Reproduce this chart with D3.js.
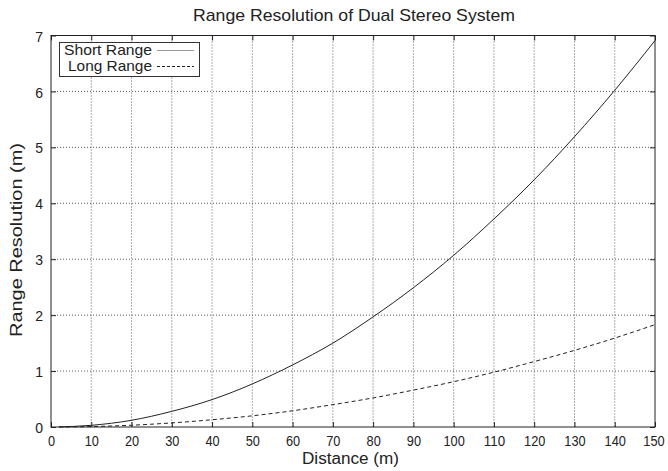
<!DOCTYPE html>
<html><head><meta charset="utf-8">
<script src="https://cdn.jsdelivr.net/npm/d3@7"></script>
<style>body{margin:0;background:#fff}svg{display:block}text{font-family:"Liberation Sans",Arial,sans-serif;fill:#222}</style>
</head><body>
<svg id="c" width="668" height="471"></svg>
<script>
const distances = [2, 10, 20, 30, 40, 50, 60, 70, 80, 90, 100, 110, 120, 130, 140, 150];
const shortRange = [0.001, 0.03, 0.12, 0.28, 0.49, 0.77, 1.11, 1.50, 1.97, 2.49, 3.07, 3.72, 4.42, 5.19, 6.02, 6.91];
const longRange  = [0.0003, 0.008, 0.032, 0.073, 0.13, 0.20, 0.29, 0.40, 0.52, 0.66, 0.81, 0.98, 1.17, 1.37, 1.59, 1.83];
const xTicks = [0,10,20,30,40,50,60,70,80,90,100,110,120,130,140,150];
const yTicks = [0,1,2,3,4,5,6,7];
const seriesNames = ["Short Range", "Long Range"];

const svg = d3.select("#c");
const L = 51, R = 655, T = 35.5, B = 427;
const x = d3.scaleLinear().domain([0,150]).range([L,R]);
const y = d3.scaleLinear().domain([0,7]).range([B,T]);

// grid
const g = svg.append("g");
g.selectAll("line.vx").data(xTicks.slice(1,-1)).join("line")
  .attr("x1",d=>x(d)).attr("x2",d=>x(d)).attr("y1",T).attr("y2",B)
  .attr("stroke","#333").attr("stroke-width",0.8).attr("stroke-dasharray","1,2");
g.selectAll("line.hy").data(yTicks.slice(1,-1)).join("line")
  .attr("y1",d=>y(d)).attr("y2",d=>y(d)).attr("x1",L).attr("x2",R)
  .attr("stroke","#333").attr("stroke-width",0.8).attr("stroke-dasharray","1,2");

// axes with inward ticks
const ax = svg.append("g").attr("transform",`translate(0,${B})`)
  .call(d3.axisBottom(x).tickValues(xTicks).tickSize(-5).tickPadding(8).tickFormat(d3.format("d")));
const axT = svg.append("g").attr("transform",`translate(0,${T})`)
  .call(d3.axisTop(x).tickValues(xTicks).tickSize(-5).tickFormat(""));
const ay = svg.append("g").attr("transform",`translate(${L},0)`)
  .call(d3.axisLeft(y).tickValues(yTicks).tickSize(-5).tickPadding(8).tickFormat(d3.format("d")));
const ayR = svg.append("g").attr("transform",`translate(${R},0)`)
  .call(d3.axisRight(y).tickValues(yTicks).tickSize(-5).tickFormat(""));
[ax,axT,ay,ayR].forEach(a=>{a.select(".domain").remove();a.selectAll("line").attr("stroke","#222");});
ax.selectAll("text").attr("font-size",15.5).style("font-family","Liberation Sans, Arial, sans-serif").attr("fill","#222")
  .attr("y",18.5).attr("dy",null).attr("x",(d,i,n)=> i===n.length-1 ? -1.5 : 0)
  .attr("textLength",d=>String(d).length*7.1).attr("lengthAdjust","spacingAndGlyphs");
ay.selectAll("text").attr("font-size",15.5).style("font-family","Liberation Sans, Arial, sans-serif").attr("fill","#222").attr("dy","0.36em")
  .attr("textLength",d=>String(d).length*7.8).attr("lengthAdjust","spacingAndGlyphs");

svg.append("rect").attr("x",L).attr("y",T).attr("width",R-L).attr("height",B-T)
  .attr("fill","none").attr("stroke","#222").attr("stroke-width",1);

const line = d3.line().x(d=>x(d[0])).y(d=>y(d[1])).curve(d3.curveMonotoneX);
svg.append("path").datum(distances.map((d,i)=>[d,shortRange[i]]))
  .attr("d",line).attr("fill","none").attr("stroke","#222").attr("stroke-width",1);
svg.append("path").datum(distances.map((d,i)=>[d,longRange[i]]))
  .attr("d",line).attr("fill","none").attr("stroke","#222").attr("stroke-width",1).attr("stroke-dasharray","4,3");

// legend
const lg = svg.append("g");
lg.append("rect").attr("x",59.5).attr("y",42.5).attr("width",140).attr("height",34)
  .attr("fill","#fff").attr("stroke","#333").attr("stroke-width",1);
lg.append("text").attr("x",64).attr("y",54.5).attr("font-size",15).attr("textLength",88).attr("lengthAdjust","spacingAndGlyphs").text(seriesNames[0]);
lg.append("text").attr("x",68).attr("y",70.5).attr("font-size",15).attr("textLength",84).attr("lengthAdjust","spacingAndGlyphs").text(seriesNames[1]);
lg.append("line").attr("x1",157).attr("x2",194).attr("y1",50.5).attr("y2",50.5).attr("stroke","#999").attr("stroke-width",1);
lg.append("line").attr("x1",157).attr("x2",194).attr("y1",66.5).attr("y2",66.5).attr("stroke","#222").attr("stroke-width",1).attr("stroke-dasharray","3,2");

svg.append("text").attr("x",193).attr("y",21).attr("font-size",17).attr("textLength",322).attr("lengthAdjust","spacingAndGlyphs").text("Range Resolution of Dual Stereo System");
svg.append("text").attr("x",302).attr("y",464).attr("font-size",16).attr("textLength",97).attr("lengthAdjust","spacingAndGlyphs").text("Distance (m)");
svg.append("text").attr("transform","translate(22,240) rotate(-90)").attr("x",-97).attr("font-size",16.5).attr("textLength",194).attr("lengthAdjust","spacingAndGlyphs").text("Range Resolution (m)");
</script>
</body></html>
